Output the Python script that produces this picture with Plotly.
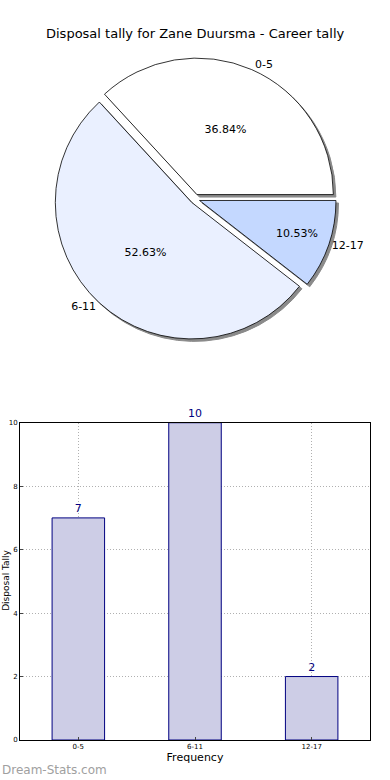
import plotly.graph_objects as go

categories = ["0-5", "6-11", "12-17"]
counts = [7, 10, 2]
pie_colors = ["#ffffff", "#eaf0ff", "#c4d8ff"]
title_text = "Disposal tally for Zane Duursma - Career tally"
y_ticks = [0, 2, 4, 6, 8, 10]

W, H = 390, 780
ML, MR, MT, MB = 20, 20, 0, 40
pw, ph = W - ML - MR, H - MT - MB

def px_x(x):
    return (x - ML) / pw

def px_y(y):
    return (H - MB - y) / ph

# matplotlib-style start: first wedge begins at 3 o'clock, counterclockwise
rot = 90 - 360 * counts[0] / sum(counts)

pull = [0.035, 0.035, 0.035]
cx, cy, r = 195, 196, 142
dom_x = [px_x(cx - r), px_x(cx + r)]
dom_y = [px_y(cy + r), px_y(cy - r)]
sh = 2.5
shadow_x = [px_x(cx - r + sh), px_x(cx + r + sh)]
shadow_y = [px_y(cy + r + sh), px_y(cy - r + sh)]

fig = go.Figure()

# shadow
fig.add_trace(go.Pie(
    labels=categories, values=counts, sort=False, direction="counterclockwise",
    rotation=rot, pull=pull, textinfo="none", hoverinfo="skip",
    marker=dict(colors=["#8a8a8a"] * 3, line=dict(color="#8a8a8a", width=1)),
    domain=dict(x=shadow_x, y=shadow_y), showlegend=False,
))
# percent labels
fig.add_trace(go.Pie(
    labels=categories, values=counts, sort=False, direction="counterclockwise",
    rotation=rot, pull=pull, textinfo="percent", texttemplate="%{percent:.2%}",
    textposition="inside", insidetextorientation="horizontal",
    textfont=dict(family="DejaVu Sans", size=11, color="#000000"),
    marker=dict(colors=pie_colors, line=dict(color="#000000", width=0.8)),
    domain=dict(x=dom_x, y=dom_y), showlegend=False,
))
# outside category labels
fig.add_trace(go.Pie(
    labels=categories, values=counts, sort=False, direction="counterclockwise",
    rotation=rot, pull=pull, textinfo="label", textposition="outside",
    textfont=dict(family="DejaVu Sans", size=11, color="#000000"),
    marker=dict(colors=["rgba(0,0,0,0)"] * 3, line=dict(width=0)),
    hoverinfo="skip", domain=dict(x=dom_x, y=dom_y), showlegend=False,
))

fig.add_trace(go.Bar(
    x=categories, y=counts, width=0.45,
    marker=dict(color="#cdcde6", line=dict(color="#000080", width=1)),
    text=[str(v) for v in counts], textposition="outside",
    textfont=dict(family="DejaVu Sans", size=11, color="#000080"),
    cliponaxis=False, showlegend=False, xaxis="x", yaxis="y",
))

fig.update_layout(
    width=W, height=H, margin=dict(l=ML, r=MR, t=MT, b=MB),
    paper_bgcolor="white", plot_bgcolor="white",
    font=dict(family="DejaVu Sans", color="#000000"),
    xaxis=dict(
        domain=[0, 1], range=[-0.5, 2.5], showline=True, mirror=True,
        linecolor="#000000", linewidth=1, ticks="inside", ticklen=3,
        tickfont=dict(size=7), showgrid=True, gridcolor="#b0b0b0",
        griddash="1px,2px", gridwidth=1,
        title=dict(text="Frequency", font=dict(size=11), standoff=2),
    ),
    yaxis=dict(
        domain=[0, px_y(421)], range=[0, 10], tickvals=y_ticks,
        showline=True, mirror=True, linecolor="#000000", linewidth=1,
        ticks="inside", ticklen=3, tickfont=dict(size=7),
        showgrid=True, gridcolor="#b0b0b0", griddash="1px,2px", gridwidth=1,
        zeroline=False,
    ),
    annotations=[
        dict(text=title_text, x=0.5, xref="paper", y=px_y(30), yref="paper",
             showarrow=False, font=dict(size=13, color="#000000"),
             xanchor="center", yanchor="middle"),
        dict(text="Dream-Stats.com", x=-ML / pw, xref="paper", y=px_y(770),
             yref="paper", showarrow=False, xanchor="left", yanchor="middle",
             font=dict(size=12, color="#a0a0a0", family="DejaVu Sans")),
        dict(text="Disposal Tally", x=-(ML - 6) / pw, xref="paper",
             y=px_y(580), yref="paper", showarrow=False, textangle=-90,
             xanchor="center", yanchor="middle",
             font=dict(size=9, color="#000000")),
    ],
)

fig.write_html("out.html", config={"displayModeBar": False},
               post_script="document.body.style.margin='0';")
